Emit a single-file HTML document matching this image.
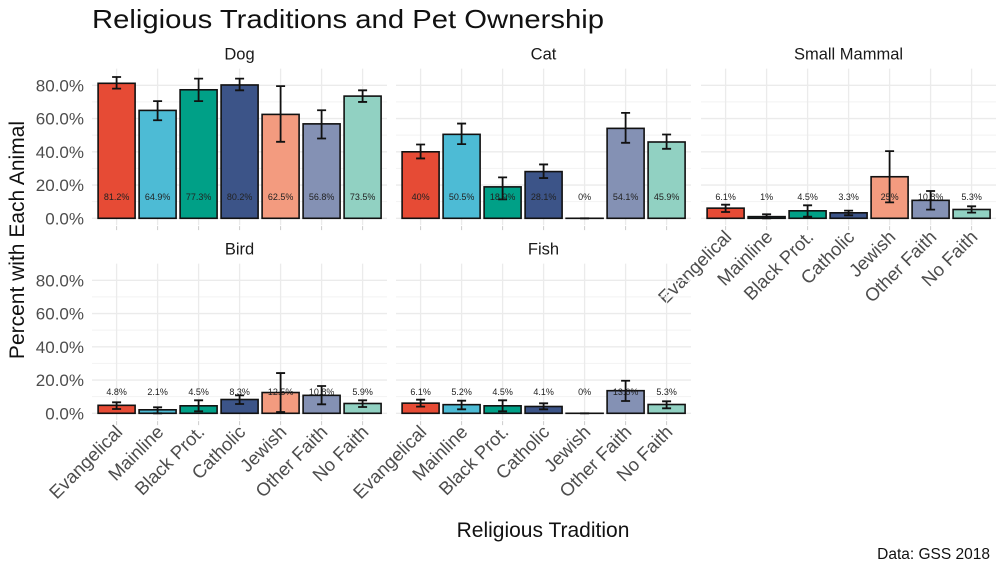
<!DOCTYPE html>
<html><head><meta charset="utf-8"><style>
html,body{margin:0;padding:0;background:#fff;}
svg{display:block;font-family:"Liberation Sans",sans-serif;}
</style></head><body>
<svg id="chart" width="1000" height="574" viewBox="0 0 1000 574" xmlns="http://www.w3.org/2000/svg">
<text x="92" y="28" font-size="26" fill="#111" textLength="512" lengthAdjust="spacingAndGlyphs">Religious Traditions and Pet Ownership</text>
<text transform="translate(24,240) rotate(-90)" text-anchor="middle" font-size="21" fill="#111">Percent with Each Animal</text>
<text x="543" y="537" text-anchor="middle" font-size="21" fill="#111">Religious Tradition</text>
<text x="990" y="559" text-anchor="end" font-size="15.5" fill="#111">Data: GSS 2018</text>
<g id="panels"></g>
</svg>
<script>
const categories = ["Evangelical","Mainline","Black Prot.","Catholic","Jewish","Other Faith","No Faith"];
const colors = ["#E64B35","#4DBBD5","#00A087","#3C5488","#F39B7F","#8491B4","#91D1C2"];
const animals = ["Dog","Cat","Small Mammal","Bird","Fish"];
const dogVals = [81.2,64.9,77.3,80.2,62.5,56.8,73.5];
const dogLo = [78,59,70.5,77,46,48,70];
const dogHi = [85,70.5,84,84,79.5,65,77];
const catVals = [40,50.5,18.9,28.1,0,54.1,45.9];
const catLo = [36,44.6,11.4,24.2,0,45.4,41.8];
const catHi = [44.4,57,24.6,32.4,0,63.4,50.4];
const smVals = [6.1,1,4.5,3.3,25,10.8,5.3];
const smLo = [3.8,0,1,1.8,9.6,5.2,3.4];
const smHi = [8.2,2.4,7.8,4.6,40.4,16.4,7.2];
const birdVals = [4.8,2.1,4.5,8.3,12.5,10.8,5.9];
const birdLo = [2.6,0,1.2,5.6,0.8,5.4,3.8];
const birdHi = [6.6,3.6,7.8,10.8,24.2,16.4,7.8];
const fishVals = [6.1,5.2,4.5,4.1,0,13.6,5.3];
const fishLo = [4,2.4,1.2,2.4,0,7.4,3];
const fishHi = [8.2,7.6,7.8,6,0,19.6,7.2];
const yTicks = [0,20,40,60,80];
const yTickLabels = ["0.0%","20.0%","40.0%","60.0%","80.0%"];
const labelY = 12.8;

const NS="http://www.w3.org/2000/svg";
const root=document.getElementById('panels');
function mk(tag,attrs,parent){const e=document.createElementNS(NS,tag);for(const k in attrs)e.setAttribute(k,attrs[k]);(parent||root).appendChild(e);return e;}
const panelW=295, step=41, yScale=133/80;
const layout=[
 {x:92,y0:218.3,vals:dogVals,lo:dogLo,hi:dogHi,yAxis:true,xAxis:false},
 {x:396,y0:218.3,vals:catVals,lo:catLo,hi:catHi,yAxis:false,xAxis:false},
 {x:701,y0:218.3,vals:smVals,lo:smLo,hi:smHi,yAxis:false,xAxis:true},
 {x:92,y0:413.3,vals:birdVals,lo:birdLo,hi:birdHi,yAxis:true,xAxis:true},
 {x:396,y0:413.3,vals:fishVals,lo:fishLo,hi:fishHi,yAxis:false,xAxis:true}
];
function fmt(v){return (Math.round(v*10)/10)+"%";}
layout.forEach((p,pi)=>{
  const g=mk('g',{});
  
  
  const sy=v=>p.y0-v*yScale;
  const sx=i=>p.x+step*0.6+i*step;
  const top=sy(90), bot=sy(-4.1);
  for(let v=10;v<90;v+=20){mk('line',{x1:p.x,x2:p.x+panelW,y1:sy(v),y2:sy(v),stroke:'#f2f2f2','stroke-width':1},g);}
  yTicks.forEach(v=>{mk('line',{x1:p.x,x2:p.x+panelW,y1:sy(v),y2:sy(v),stroke:'#ebebeb','stroke-width':1.3},g);});
  categories.forEach((c,i)=>{mk('line',{x1:sx(i),x2:sx(i),y1:top,y2:bot,stroke:'#ebebeb','stroke-width':1.3},g);
    mk('line',{x1:sx(i),x2:sx(i),y1:bot+1,y2:bot+5,stroke:'#ccc','stroke-width':1},g);});
  const st=mk('text',{x:p.x+panelW/2,y:p.y0-159,'text-anchor':'middle','font-size':16.5,fill:'#1a1a1a'},g);
  st.textContent=animals[pi];
  
  
  if(p.yAxis){yTicks.forEach((v,k)=>{const t=mk('text',{x:p.x-8,y:sy(v)+6,'text-anchor':'end','font-size':17,fill:'#4d4d4d'},g);t.textContent=yTickLabels[k];
    
    });}
  p.vals.forEach((v,i)=>{
    const bw=37, x=sx(i)-bw/2;
    const r=mk('rect',{x:x,y:sy(v),width:bw,height:Math.max(v*yScale,0.01),fill:colors[i],stroke:'#111','stroke-width':1.6},g);
    
    
    const ey1=sy(p.hi[i]), ey2=sy(p.lo[i]);
    const eb=mk('path',{d:`M${sx(i)-4.5},${ey1}H${sx(i)+4.5}M${sx(i)},${ey1}V${ey2}M${sx(i)-4.5},${ey2}H${sx(i)+4.5}`,stroke:'#111','stroke-width':1.8,fill:'none'},g);
    
    
    const lt=mk('text',{x:sx(i),y:sy(labelY)+3,'text-anchor':'middle','font-size':9,fill:'#222'},g);
    lt.textContent=fmt(v);
    
    
  });
  if(p.xAxis){categories.forEach((c,i)=>{const t=mk('text',{transform:`translate(${sx(i)+7},${bot+13}) rotate(-45)`,'text-anchor':'end','font-size':18.5,fill:'#4d4d4d'},g);t.textContent=c;
    
    });}
});
</script>
</body></html>
